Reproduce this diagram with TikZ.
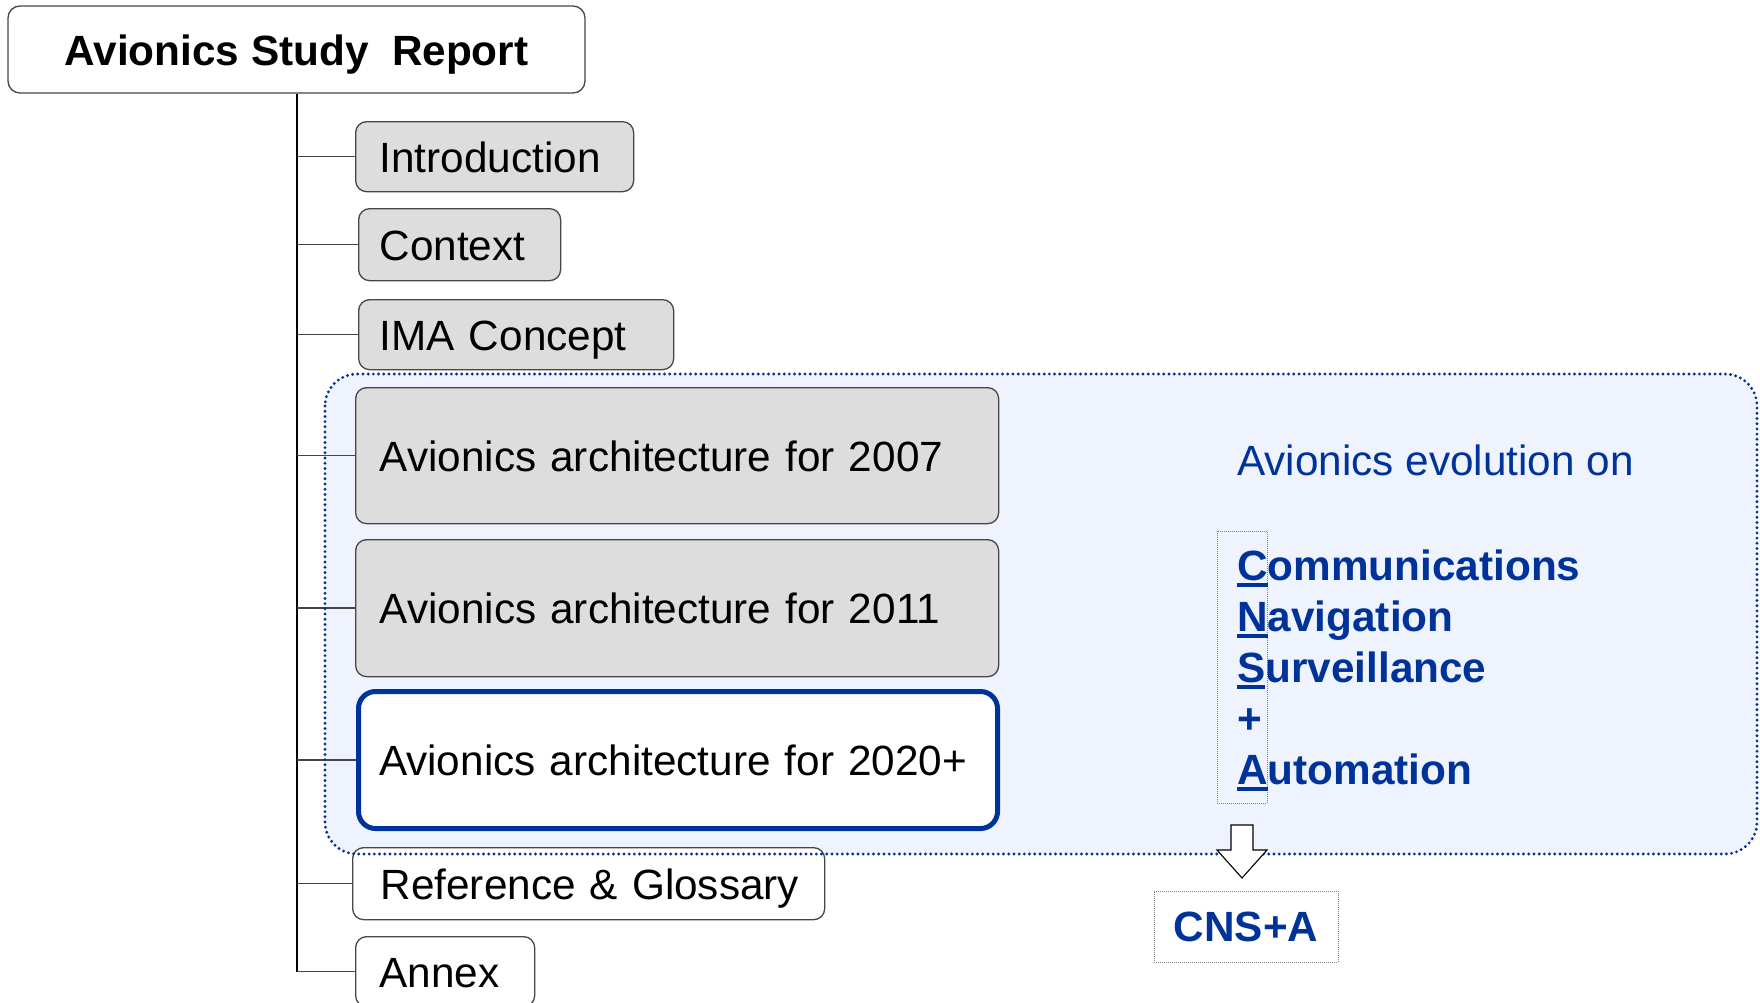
\documentclass[tikz,border=0pt]{standalone}
\usepackage{fontspec}
\setmainfont{Liberation Sans}

\definecolor{navy}{RGB}{0,51,153}
\definecolor{paleblue}{RGB}{239,243,253}
\definecolor{boxgray}{RGB}{221,221,221}
\definecolor{edgegray}{RGB}{70,70,70}

% first letter of an acronym word, with a heavy underline
\newsavebox\initialbox
\newcommand\initial[1]{\sbox\initialbox{#1}\rlap{\rule[-7pt]{\wd\initialbox}{4pt}}\usebox\initialbox}

\begin{document}
\hyphenpenalty=10000
\begin{tikzpicture}[x=1pt, y=-1pt,
  big/.style={font=\fontsize{42.3}{51}\selectfont},
  bigbold/.style={font=\fontsize{42.3}{51}\selectfont\bfseries},
  topic/.style={big, draw=edgegray, line width=1.3pt, rounded corners=11pt,
    fill=boxgray, anchor=north west, inner ysep=0pt, align=left,
    text height=40pt, text depth=8.5pt},
  plainbox/.style={topic, fill=white},
  focus/.style={topic, fill=white, draw=navy, line width=5pt, rounded corners=17pt},
  link/.style={draw=edgegray, line width=1.4pt},
  trunk/.style={draw=black, line width=2pt},
  dotbox/.style={draw=gray, line width=0.9pt, dash pattern=on 1pt off 1pt},
  regionedge/.style={draw=navy, line width=3.2pt, line cap=round, dash pattern=on 0pt off 5.2pt},
  label/.style={anchor=base west, inner sep=0pt, text=navy},
]
\useasboundingbox (0,0) rectangle (1760,1002);

% shaded area grouping the architecture chapters
\node[fill=paleblue, rounded corners=32pt, minimum width=1432pt, minimum height=480pt,
      anchor=north west, inner sep=0pt, outer sep=0pt] (evo) at (325,374) {};

% report title
\node[plainbox, bigbold, anchor=center, align=center, minimum width=577pt,
      minimum height=87pt, rounded corners=12pt, inner xsep=0pt] (title) at (296.5,49.5)
      {Avionics Study~~Report};

% chapters
\node[topic, minimum width=278pt, minimum height=70pt, inner xsep=24pt, text width=230pt]
  (intro) at (355,121) {Introduction};
\node[topic, minimum width=202pt, minimum height=72pt, inner xsep=21pt, text width=160pt]
  (context) at (358,208) {Context};
\node[topic, minimum width=315pt, minimum height=70pt, inner xsep=21pt, text width=273pt]
  (ima) at (358,299) {IMA Concept};
\node[topic, minimum width=643pt, minimum height=136pt, inner xsep=24pt, text width=595pt]
  (a2007) at (355,387) {Avionics architecture for 2007};
\node[topic, minimum width=643pt, minimum height=137pt, inner xsep=24pt, text width=595pt]
  (a2011) at (355,539) {Avionics architecture for 2011};
\node[focus, minimum width=639pt, minimum height=137pt, inner xsep=20.5pt, text width=598pt]
  (a2020) at (356,689) {Avionics architecture for 2020+};
\node[plainbox, minimum width=472pt, minimum height=72pt, inner xsep=28pt, text width=416pt]
  (refs) at (352,847) {\mbox{Reference \& Glossary}};
\node[plainbox, minimum width=179pt, minimum height=70pt, inner xsep=24pt, text width=131pt]
  (annex) at (355,936) {Annex};

% tree connectors
\draw[trunk] (title.south) -- (title.south |- annex.west);
\foreach \n in {intro,context,ima,a2007,a2011,a2020,refs,annex}
  \draw[link] (title.south |- \n.west) -- (\n.west);

% dotted outline of the shaded area, over the boxes
\draw[regionedge, rounded corners=32pt] (evo.north west) rectangle (evo.south east);

% CNS+A explanation
\node[big, label] (evoltitle) at (1237,475) {Avionics evolution on};
\node[dotbox, minimum width=50pt, minimum height=272pt, anchor=north west, inner sep=0pt]
  (initials) at (1217,531) {};
\node[bigbold, label] (lc) at (1237,580) {\initial{C}ommunications};
\node[bigbold, label] (ln) at (1237,631) {\initial{N}avigation};
\node[bigbold, label] (ls) at (1237,682) {\initial{S}urveillance};
\node[bigbold, label] (lp) at (1237,733) {+};
\node[bigbold, label] (la) at (1237,784) {\initial{A}utomation};

% block arrow down to the acronym
\draw[line width=1.1pt, fill=white, line join=miter]
  (1231,825) -- (1253,825) -- (1253,850) -- (1267,850) -- (1242,878)
  -- (1217,850) -- (1231,850) -- cycle;

\node[dotbox, bigbold, text=navy, minimum width=184pt, minimum height=71pt, inner sep=0pt]
  (cnsa) at (1246,926.5) {CNS+A};
\end{tikzpicture}
\end{document}
